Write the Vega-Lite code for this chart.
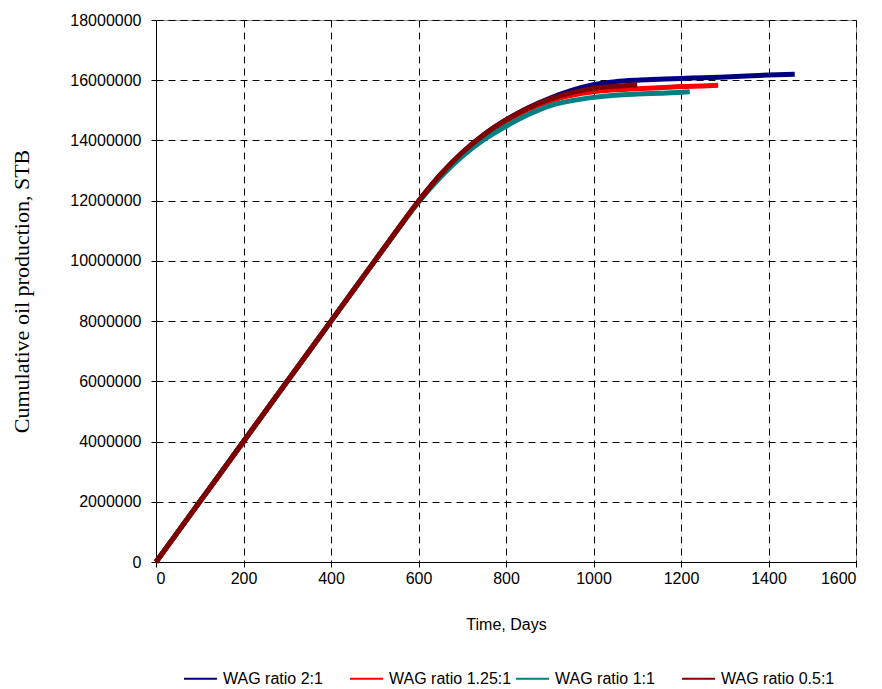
{
  "$schema": "https://vega.github.io/schema/vega-lite/v6.json",
  "width": 700,
  "height": 542,
  "autosize": "none",
  "padding": {"left": 156, "top": 20, "right": 26, "bottom": 127},
  "background": "white",
  "config": {
    "view": {"stroke": "#888888", "strokeWidth": 1},
    "font": "Liberation Sans"
  },
  "data": {
    "values": [
      {"s": "WAG ratio 2:1", "t": 0, "v": 0},
      {"s": "WAG ratio 2:1", "t": 100, "v": 2000000},
      {"s": "WAG ratio 2:1", "t": 200, "v": 4000000},
      {"s": "WAG ratio 2:1", "t": 300, "v": 6000000},
      {"s": "WAG ratio 2:1", "t": 400, "v": 8000000},
      {"s": "WAG ratio 2:1", "t": 500, "v": 10000000},
      {"s": "WAG ratio 2:1", "t": 550, "v": 11000000},
      {"s": "WAG ratio 2:1", "t": 600, "v": 11980000},
      {"s": "WAG ratio 2:1", "t": 650, "v": 12860000},
      {"s": "WAG ratio 2:1", "t": 700, "v": 13600000},
      {"s": "WAG ratio 2:1", "t": 750, "v": 14200000},
      {"s": "WAG ratio 2:1", "t": 800, "v": 14680000},
      {"s": "WAG ratio 2:1", "t": 850, "v": 15080000},
      {"s": "WAG ratio 2:1", "t": 900, "v": 15400000},
      {"s": "WAG ratio 2:1", "t": 950, "v": 15660000},
      {"s": "WAG ratio 2:1", "t": 1000, "v": 15850000},
      {"s": "WAG ratio 2:1", "t": 1050, "v": 15950000},
      {"s": "WAG ratio 2:1", "t": 1100, "v": 16000000},
      {"s": "WAG ratio 2:1", "t": 1150, "v": 16030000},
      {"s": "WAG ratio 2:1", "t": 1200, "v": 16060000},
      {"s": "WAG ratio 2:1", "t": 1250, "v": 16080000},
      {"s": "WAG ratio 2:1", "t": 1300, "v": 16110000},
      {"s": "WAG ratio 2:1", "t": 1350, "v": 16140000},
      {"s": "WAG ratio 2:1", "t": 1400, "v": 16170000},
      {"s": "WAG ratio 2:1", "t": 1460, "v": 16200000},

      {"s": "WAG ratio 1.25:1", "t": 0, "v": 0},
      {"s": "WAG ratio 1.25:1", "t": 100, "v": 2000000},
      {"s": "WAG ratio 1.25:1", "t": 200, "v": 4000000},
      {"s": "WAG ratio 1.25:1", "t": 300, "v": 6000000},
      {"s": "WAG ratio 1.25:1", "t": 400, "v": 8000000},
      {"s": "WAG ratio 1.25:1", "t": 500, "v": 10000000},
      {"s": "WAG ratio 1.25:1", "t": 550, "v": 11000000},
      {"s": "WAG ratio 1.25:1", "t": 600, "v": 11970000},
      {"s": "WAG ratio 1.25:1", "t": 650, "v": 12840000},
      {"s": "WAG ratio 1.25:1", "t": 700, "v": 13570000},
      {"s": "WAG ratio 1.25:1", "t": 750, "v": 14170000},
      {"s": "WAG ratio 1.25:1", "t": 800, "v": 14640000},
      {"s": "WAG ratio 1.25:1", "t": 850, "v": 15020000},
      {"s": "WAG ratio 1.25:1", "t": 900, "v": 15310000},
      {"s": "WAG ratio 1.25:1", "t": 950, "v": 15500000},
      {"s": "WAG ratio 1.25:1", "t": 1000, "v": 15620000},
      {"s": "WAG ratio 1.25:1", "t": 1050, "v": 15680000},
      {"s": "WAG ratio 1.25:1", "t": 1100, "v": 15720000},
      {"s": "WAG ratio 1.25:1", "t": 1150, "v": 15750000},
      {"s": "WAG ratio 1.25:1", "t": 1200, "v": 15790000},
      {"s": "WAG ratio 1.25:1", "t": 1250, "v": 15810000},
      {"s": "WAG ratio 1.25:1", "t": 1285, "v": 15830000},

      {"s": "WAG ratio 1:1", "t": 0, "v": 0},
      {"s": "WAG ratio 1:1", "t": 100, "v": 2000000},
      {"s": "WAG ratio 1:1", "t": 200, "v": 4000000},
      {"s": "WAG ratio 1:1", "t": 300, "v": 6000000},
      {"s": "WAG ratio 1:1", "t": 400, "v": 8000000},
      {"s": "WAG ratio 1:1", "t": 500, "v": 10000000},
      {"s": "WAG ratio 1:1", "t": 550, "v": 10990000},
      {"s": "WAG ratio 1:1", "t": 600, "v": 11950000},
      {"s": "WAG ratio 1:1", "t": 650, "v": 12780000},
      {"s": "WAG ratio 1:1", "t": 700, "v": 13470000},
      {"s": "WAG ratio 1:1", "t": 750, "v": 14030000},
      {"s": "WAG ratio 1:1", "t": 800, "v": 14470000},
      {"s": "WAG ratio 1:1", "t": 850, "v": 14850000},
      {"s": "WAG ratio 1:1", "t": 900, "v": 15150000},
      {"s": "WAG ratio 1:1", "t": 950, "v": 15320000},
      {"s": "WAG ratio 1:1", "t": 1000, "v": 15430000},
      {"s": "WAG ratio 1:1", "t": 1050, "v": 15500000},
      {"s": "WAG ratio 1:1", "t": 1100, "v": 15540000},
      {"s": "WAG ratio 1:1", "t": 1150, "v": 15570000},
      {"s": "WAG ratio 1:1", "t": 1200, "v": 15600000},
      {"s": "WAG ratio 1:1", "t": 1220, "v": 15620000},

      {"s": "WAG ratio 0.5:1", "t": 0, "v": 0},
      {"s": "WAG ratio 0.5:1", "t": 100, "v": 2000000},
      {"s": "WAG ratio 0.5:1", "t": 200, "v": 4000000},
      {"s": "WAG ratio 0.5:1", "t": 300, "v": 6000000},
      {"s": "WAG ratio 0.5:1", "t": 400, "v": 8000000},
      {"s": "WAG ratio 0.5:1", "t": 500, "v": 10000000},
      {"s": "WAG ratio 0.5:1", "t": 550, "v": 11000000},
      {"s": "WAG ratio 0.5:1", "t": 600, "v": 11980000},
      {"s": "WAG ratio 0.5:1", "t": 650, "v": 12860000},
      {"s": "WAG ratio 0.5:1", "t": 700, "v": 13600000},
      {"s": "WAG ratio 0.5:1", "t": 750, "v": 14200000},
      {"s": "WAG ratio 0.5:1", "t": 800, "v": 14680000},
      {"s": "WAG ratio 0.5:1", "t": 850, "v": 15070000},
      {"s": "WAG ratio 0.5:1", "t": 900, "v": 15370000},
      {"s": "WAG ratio 0.5:1", "t": 950, "v": 15590000},
      {"s": "WAG ratio 0.5:1", "t": 1000, "v": 15730000},
      {"s": "WAG ratio 0.5:1", "t": 1050, "v": 15800000},
      {"s": "WAG ratio 0.5:1", "t": 1100, "v": 15840000}
    ]
  },
  "mark": {"type": "line", "strokeWidth": 5, "interpolate": "monotone"},
  "encoding": {
    "x": {
      "field": "t", "type": "quantitative",
      "scale": {"domain": [0, 1600], "nice": false},
      "axis": {
        "values": [0, 200, 400, 600, 800, 1000, 1200, 1400, 1600],
        "format": "d",
        "title": "Time, Days",
        "titleFont": "Liberation Sans", "titleFontSize": 16, "titleFontWeight": "normal", "titleColor": "black",
        "titlePadding": 30,
        "labelFont": "Liberation Sans", "labelFontSize": 16, "labelColor": "black", "labelPadding": 3,
        "domainColor": "black", "tickColor": "black", "tickSize": 5,
        "grid": true, "gridColor": "black", "gridDash": [7, 5], "gridWidth": 1
      }
    },
    "y": {
      "field": "v", "type": "quantitative",
      "scale": {"domain": [0, 18000000], "nice": false},
      "axis": {
        "values": [0, 2000000, 4000000, 6000000, 8000000, 10000000, 12000000, 14000000, 16000000, 18000000],
        "format": "d",
        "title": "Cumulative oil production, STB",
        "titleFont": "Liberation Serif", "titleFontSize": 22, "titleFontWeight": "normal", "titleColor": "black",
        "titlePadding": 36,
        "labelFont": "Liberation Sans", "labelFontSize": 16, "labelColor": "black", "labelPadding": 10,
        "domainColor": "black", "tickColor": "black", "tickSize": 5,
        "grid": true, "gridColor": "black", "gridDash": [7, 5], "gridWidth": 1
      }
    },
    "color": {
      "field": "s", "type": "nominal",
      "scale": {
        "domain": ["WAG ratio 2:1", "WAG ratio 1.25:1", "WAG ratio 1:1", "WAG ratio 0.5:1"],
        "range": ["#000080", "#FF0000", "#008080", "#800000"]
      },
      "legend": {
        "title": null,
        "orient": "none",
        "legendX": 27,
        "legendY": 641,
        "direction": "horizontal",
        "columns": 4,
        "gridAlign": "all",
        "symbolType": "stroke",
        "symbolSize": 1089,
        "symbolStrokeWidth": 2,
        "labelFont": "Liberation Sans",
        "labelFontSize": 16,
        "labelColor": "black",
        "columnPadding": 0,
        "labelOffset": 5
      }
    }
  }
}
